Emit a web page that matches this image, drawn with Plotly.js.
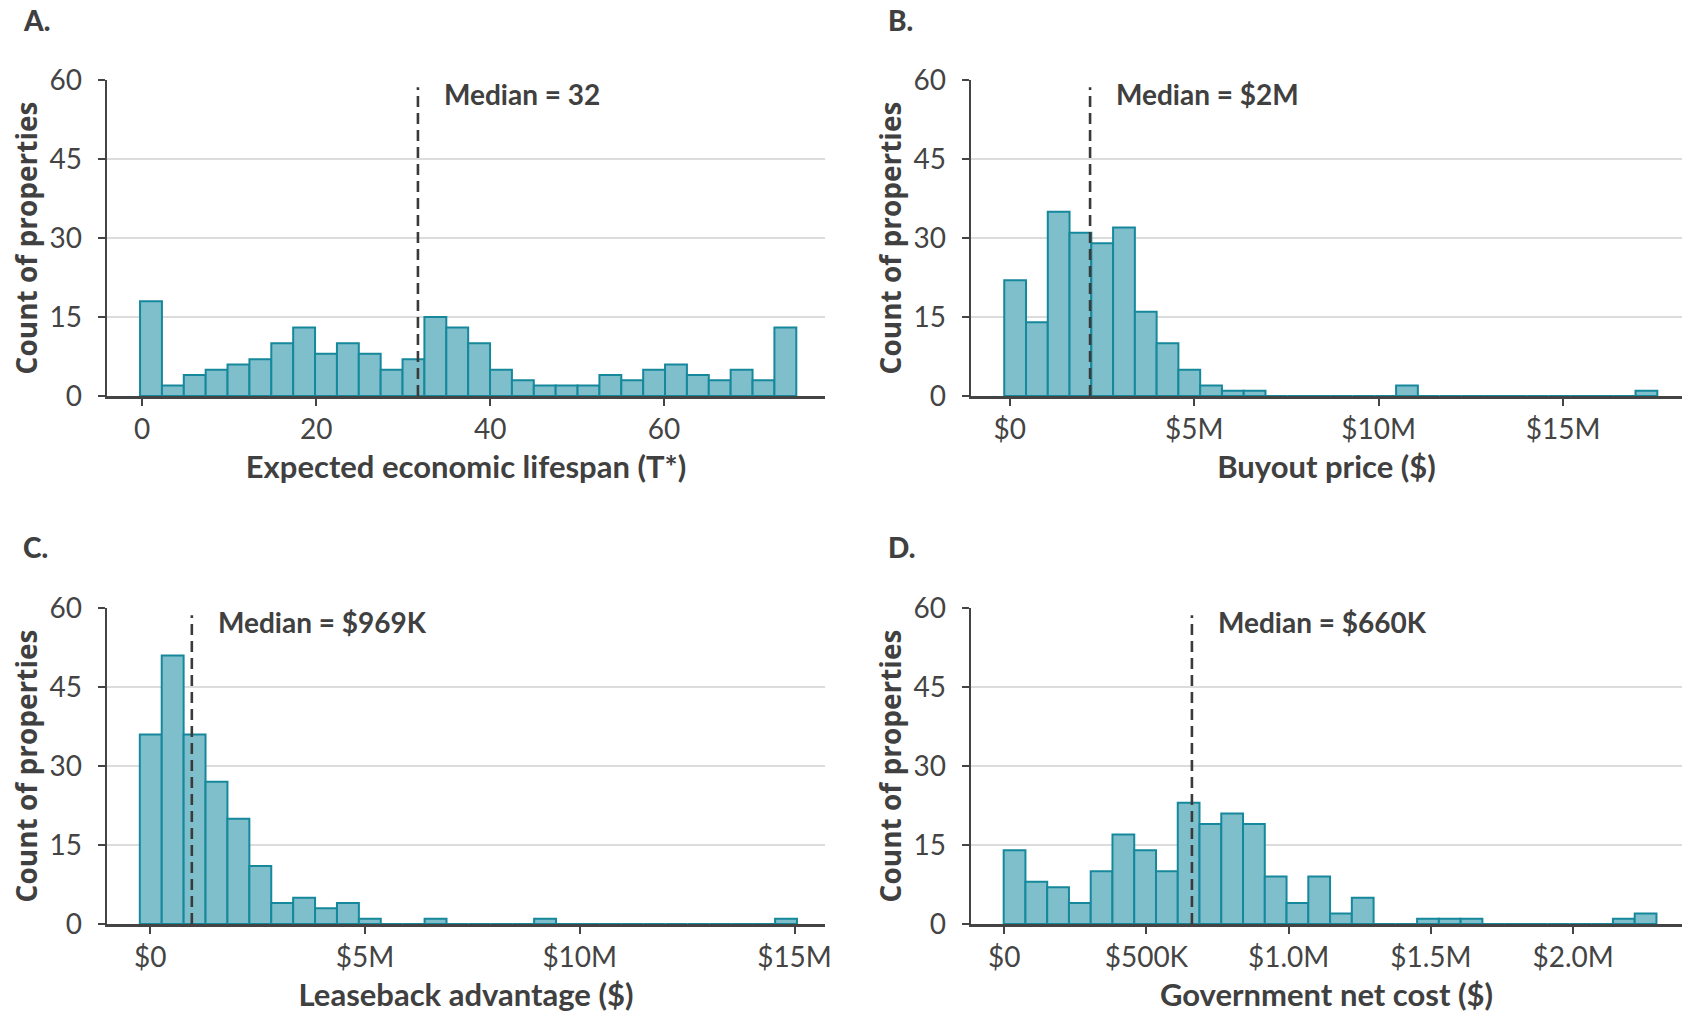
<!DOCTYPE html>
<html>
<head>
<meta charset="utf-8">
<script src="https://cdn.plot.ly/plotly-3.0.1.min.js"></script>
<style>html,body{margin:0;padding:0;background:#fff;}#chart{width:1682px;height:1014px;}</style>
</head>
<body>
<div id="chart"></div>
<script>
// ---- Data ----
// Panel A: Expected economic lifespan (T*)
const countsA = [18,2,4,5,6,7,10,13,8,10,8,5,7,15,13,10,5,3,2,2,2,4,3,5,6,4,3,5,3,13];
const binStartA = -0.25, binSizeA = 2.515;
const medianA = 31.7, medianLabelA = "Median = 32";
const tickValsA = [0,20,40,60];
const tickTextA = ["0","20","40","60"];

// Panel B: Buyout price ($)
const countsB = [22,14,35,31,29,32,16,10,5,2,1,1,0,0,0,0,0,0,2,0,0,0,0,0,0,0,0,0,0,1];
const binStartB = -0.149e6, binSizeB = 0.590e6;
const medianB = 2.177e6, medianLabelB = "Median = $2M";
const tickValsB = [0,5e6,10e6,15e6];
const tickTextB = ["$0","$5M","$10M","$15M"];

// Panel C: Leaseback advantage ($)
const countsC = [36,51,36,27,20,11,4,5,3,4,1,0,0,1,0,0,0,0,1,0,0,0,0,0,0,0,0,0,0,1];
const binStartC = -0.242e6, binSizeC = 0.510e6;
const medianC = 0.969e6, medianLabelC = "Median = $969K";
const tickValsC = [0,5e6,10e6,15e6];
const tickTextC = ["$0","$5M","$10M","$15M"];

// Panel D: Government net cost ($)
const countsD = [14,8,7,4,10,17,14,10,23,19,21,19,9,4,9,2,5,0,0,1,1,1,0,0,0,0,0,0,1,2];
const binStartD = -1.8e3, binSizeD = 76.5e3;
const medianD = 660e3, medianLabelD = "Median = $660K";
const tickValsD = [0,500e3,1.0e6,1.5e6,2.0e6];
const tickTextD = ["$0","$500K","$1.0M","$1.5M","$2.0M"];

const xTitles = ["Expected economic lifespan (T*)","Buyout price ($)","Leaseback advantage ($)","Government net cost ($)"];
const panelLetters = ["A.","B.","C.","D."];
const yTitle = "Count of properties";
const yTicks = [0,15,30,45,60];

// ---- Styling / layout ----
const W = 1682, H = 1014;
const fill = "#7FBFCC", edge = "#16889B", dark = "#3a3a3a";
const tickFont = {family: "Lato, 'Noto Sans', sans-serif", size: 28, color: "#444444"};
const xTitleFont = {family: "Lato, 'Noto Sans', sans-serif", size: 31, color: "#404040", weight: 700};
const yTitleFont = {family: "'Open Sans', 'Noto Sans', sans-serif", size: 28, color: "#404040", weight: 700};
const labelFont = {family: "Lato, 'Noto Sans', sans-serif", size: 28, color: "#404040", weight: 700};

// pixel boxes [left, right, top, bottom]
const boxes = [[107,825,80,396],[971,1682,80,396],[107,825,608,924],[971,1682,608,924]];
const xRanges = [[-4.05,78.5],[-1.05e6,18.22e6],[-1.006e6,15.71e6],[-116.7e3,2383e3]];

const panels = [
  {counts: countsA, start: binStartA, size: binSizeA, median: medianA, label: medianLabelA, tv: tickValsA, tt: tickTextA},
  {counts: countsB, start: binStartB, size: binSizeB, median: medianB, label: medianLabelB, tv: tickValsB, tt: tickTextB},
  {counts: countsC, start: binStartC, size: binSizeC, median: medianC, label: medianLabelC, tv: tickValsC, tt: tickTextC},
  {counts: countsD, start: binStartD, size: binSizeD, median: medianD, label: medianLabelD, tv: tickValsD, tt: tickTextD}
];

const traces = [];
const layout = {
  width: W, height: H,
  margin: {l:0, r:0, t:0, b:0},
  paper_bgcolor: "#ffffff", plot_bgcolor: "#ffffff",
  showlegend: false,
  bargap: 0,
  shapes: [], annotations: []
};

panels.forEach((p, i) => {
  const n = i + 1;
  const xa = "x" + (n === 1 ? "" : n), ya = "y" + (n === 1 ? "" : n);
  const xaKey = "xaxis" + (n === 1 ? "" : n), yaKey = "yaxis" + (n === 1 ? "" : n);
  const centers = p.counts.map((_, k) => p.start + p.size * (k + 0.5));
  traces.push({
    type: "bar", x: centers, y: p.counts, width: p.size,
    xaxis: xa, yaxis: ya,
    marker: {color: fill, line: {color: edge, width: 2}},
    hoverinfo: "x+y"
  });
  const [l, r, t, b] = boxes[i];
  layout[xaKey] = {
    domain: [l / W, r / W], anchor: ya, range: xRanges[i],
    showgrid: false, zeroline: false,
    showline: true, linecolor: "#444444", linewidth: 2.5,
    ticks: "outside", ticklen: 7, tickwidth: 2, tickcolor: "#444444",
    tickmode: "array", tickvals: p.tv, ticktext: p.tt,
    tickfont: tickFont, ticklabelstandoff: 0,
    title: {text: xTitles[i], font: xTitleFont, standoff: 12}
  };
  layout[yaKey] = {
    domain: [1 - b / H, 1 - t / H], anchor: xa, range: [0, 60],
    showgrid: true, gridcolor: "#DCDCDC", gridwidth: 2,
    zeroline: false,
    showline: true, linecolor: "#444444", linewidth: 2.5,
    ticks: "outside", ticklen: 7, tickwidth: 2, tickcolor: "#444444",
    tickmode: "array", tickvals: yTicks,
    tickfont: tickFont, ticklabelstandoff: 10,
    title: {text: yTitle, font: yTitleFont, standoff: 4}
  };
  layout.shapes.push({
    type: "line", xref: xa, yref: ya,
    x0: p.median, x1: p.median, y0: 0, y1: 58.6,
    line: {color: dark, width: 2.6, dash: "11px,6px"}
  });
  layout.annotations.push({
    xref: xa, yref: ya, x: p.median, y: 57.3,
    text: p.label, showarrow: false, xanchor: "left", yanchor: "middle",
    xshift: 24, font: labelFont
  });
  layout.annotations.push({
    xref: "paper", yref: "paper",
    x: (i % 2 === 0 ? 21 : 886) / W, y: 1 - (i < 2 ? 20 : 547) / H,
    text: panelLetters[i], showarrow: false, xanchor: "left", yanchor: "middle",
    font: {family: "Lato, 'Noto Sans', sans-serif", size: 28, color: "#404040", weight: 900}
  });
});

Plotly.newPlot("chart", traces, layout, {displayModeBar: false, staticPlot: true});
</script>
</body>
</html>
